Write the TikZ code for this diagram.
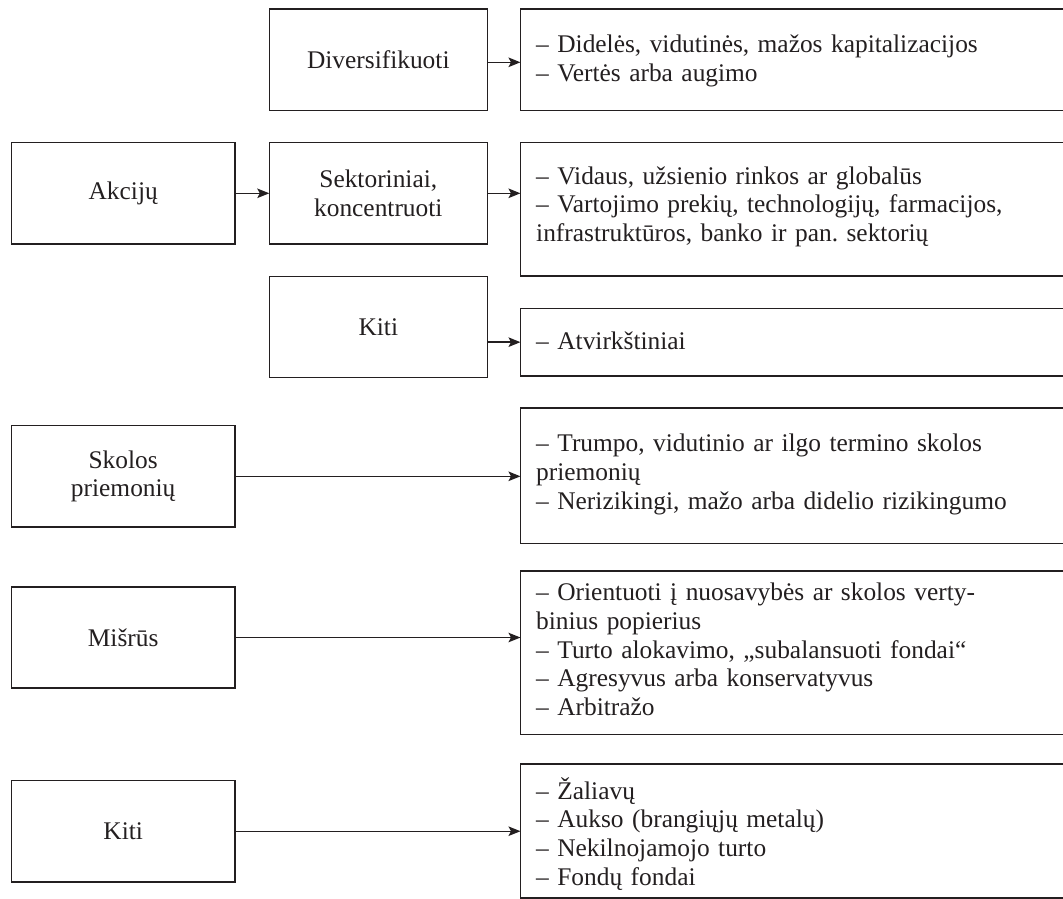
\documentclass[tikz,border=0pt]{standalone}
\usepackage{fontspec}
\setmainfont{Liberation Serif}
\usetikzlibrary{arrows.meta}
\definecolor{ink}{RGB}{35,31,32}
\frenchspacing
\begin{document}
\begin{tikzpicture}[x=1pt,y=-1pt,
  txt/.style={text=ink, font=\fontsize{25.4}{28.7}\selectfont},
  box/.style={draw=ink, line width=1.4pt, inner sep=0pt, outer sep=0pt, txt, align=center},
  lbox/.style={box, minimum width=223.7pt, minimum height=101.3pt},
  mbox/.style={box, minimum width=218pt, minimum height=101.3pt},
  rbox/.style={box, anchor=west, minimum width=640pt},
  rtext/.style={txt, anchor=base west, inner sep=0pt, text width=520pt, align=left},
  arr/.style={draw=ink, line width=1.4pt, -{Stealth[length=12pt,width=9.5pt,inset=2.5pt]}}]
\useasboundingbox (0,0) rectangle (1063,899);
\clip (0,0) rectangle (1063,899);

\node[mbox] (div) at (378.3,59.7) {Diversifikuoti};
\node[lbox] (akc) at (123.2,193.3) {Akcijų};
\node[mbox] (sek) at (378.3,193.3) {Sektoriniai,\\koncentruoti};
\node[mbox] (kiti1) at (378.3,327) {Kiti};
\node[lbox] (skol) at (123.2,476.3) {Skolos\\priemonių};
\node[lbox] (mis) at (123.2,637.5) {Mišrūs};
\node[lbox] (kiti2) at (123.2,831.2) {Kiti};

\node[rbox, minimum height=101.3pt] (r1) at (520.5,59.7) {};
\node[rbox, minimum height=133.3pt] (r2) at (520.5,209.35) {};
\node[rbox, minimum height=67.7pt]  (r3) at (520.5,342.15) {};
\node[rbox, minimum height=135.3pt] (r4) at (520.5,475.65) {};
\node[rbox, minimum height=163.7pt] (r5) at (520.5,652.85) {};
\node[rbox, minimum height=134pt]   (r6) at (520.5,831) {};

\node[rtext] (t1) at (536,53)
  {– Didelės, vidutinės, mažos kapitalizacijos\\– Vertės arba augimo};
\node[rtext] (t2) at (536,184)
  {– Vidaus, užsienio rinkos ar globalūs\\– Vartojimo prekių, technologijų, farmacijos,\\infrastruktūros, banko ir pan. sektorių};
\node[rtext] (t3) at (536,349)
  {– Atvirkštiniai};
\node[rtext] (t4) at (536,451.6)
  {– Trumpo, vidutinio ar ilgo termino skolos\\priemonių\\– Nerizikingi, mažo arba didelio rizikingumo};
\node[rtext] (t5) at (536,600.7)
  {– Orientuoti į nuosavybės ar skolos verty-\\binius popierius\\– Turto alokavimo, „subalansuoti fondai“\\– Agresyvus arba konservatyvus\\– Arbitražo};
\node[rtext] (t6) at (536,799)
  {– Žaliavų\\– Aukso (brangiųjų metalų)\\– Nekilnojamojo turto\\– Fondų fondai};

\draw[arr] ([yshift=-2.6pt]div.east) -- ([yshift=-2.6pt]div.east -| r1.west);
\draw[arr] (akc.east) -- (sek.west);
\draw[arr] (sek.east) -- (sek.east -| r2.west);
\draw[arr] (kiti1.east |- r3.west) -- (r3.west);
\draw[arr] (skol.east) -- (skol.east -| r4.west);
\draw[arr] (mis.east) -- (mis.east -| r5.west);
\draw[arr] (kiti2.east) -- (kiti2.east -| r6.west);
\end{tikzpicture}
\end{document}
